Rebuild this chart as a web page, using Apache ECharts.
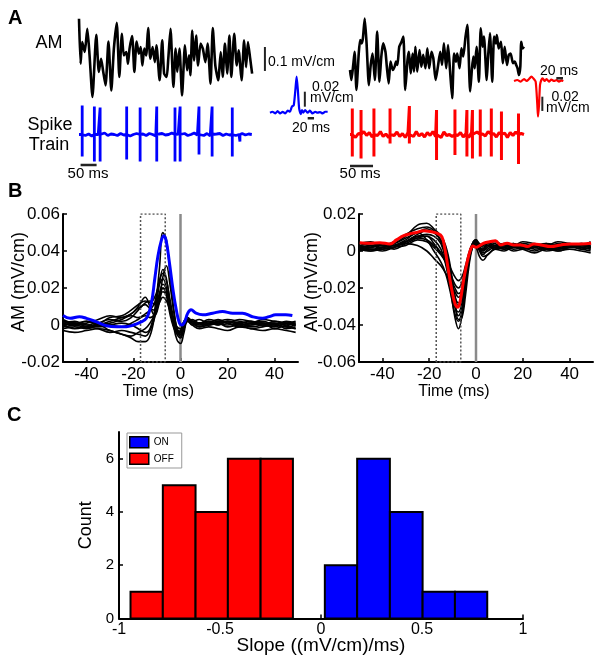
<!DOCTYPE html>
<html><head><meta charset="utf-8">
<script src="https://cdn.jsdelivr.net/npm/echarts/dist/echarts.min.js"></script>
<style>html,body{margin:0;padding:0;background:#fff}#c{width:604px;height:663px}</style>
</head><body><div id="c"></div>
<script>
// ---------- Panel A: AM traces (time ms, mV/cm) ----------
const amLeftT = [0,5,10,18,26,33,42,54,62,69,75,83,92,101,109,118,126,134,140,148,153,158,166,173,180,187,193,198,204,210,216,223,230,237,242,252,260,266,274,279,286,295,302,307,314,322,331,338,344,348,354,360,366,372,380,387,395,402,411,418,426,435,443,449,456,463,470,476,485,493,499,508,516,522,528,535,541];
const amLeftV = [0.164,-0.024,0.067,0.025,0.122,0.011,-0.162,0.097,-0.058,-0.003,-0.051,-0.114,0.069,-0.135,0.039,0.147,-0.079,0.101,0.011,0.025,-0.024,0.039,0.092,-0.058,0.069,0.018,0.046,-0.031,0.039,0.011,0.125,-0.003,0.046,-0.017,0.053,-0.093,0.074,-0.065,-0.079,-0.003,0.122,-0.121,0.039,-0.058,0.039,-0.156,0.053,-0.051,0.011,-0.072,0.115,-0.010,0.094,-0.031,0.060,0.039,-0.017,0.060,-0.107,0.125,-0.031,-0.093,0.025,-0.079,0.060,-0.065,0.094,-0.079,0.101,-0.031,0.032,-0.093,0.074,-0.038,0.067,-0.003,-0.065];
const amRightT = [0,3,7,10,14,19,22,25,28,32,36,41,45,49,54,59,64,68,72,77,80,84,88,93,97,100,103,107,112,116,120,125,128,132,136,139,142,146,151,155,159,164,168,172,177,181,186,191,196,200,204,209,213,217,222,226,230,233,238,242,246,251,255,261,265,268,271,275,280,284,288,291,297,300,304,309,313,317,319,323,328,332,336,341,345,349,354,358,361,364,367,370,372,375,378];
const amRightV = [-0.050,-0.092,-0.029,0.026,-0.133,0.019,0.075,0.061,0.082,0.165,0.061,-0.113,-0.029,0.019,-0.092,0.110,-0.099,0.006,0.061,0.026,-0.036,-0.106,-0.015,-0.050,-0.036,-0.015,-0.029,0.047,0.068,0.089,-0.133,-0.008,0.026,-0.064,0.019,-0.057,0.047,-0.057,0.033,-0.036,0.013,-0.043,0.040,-0.043,0.026,-0.001,-0.092,-0.036,0.026,-0.029,0.061,-0.043,0.054,-0.043,-0.168,0.019,-0.015,0.019,-0.043,0.040,0.006,0.089,0.138,-0.140,-0.043,0.006,-0.043,0.047,-0.099,0.124,0.047,0.089,-0.092,0.006,0.103,-0.099,0.089,0.061,0.096,0.040,0.068,-0.022,0.047,-0.029,0.013,0.019,-0.022,-0.015,-0.029,-0.043,-0.071,-0.036,0.068,0.040,0.047];

// Spike trains (spike times ms, amplitudes in arbitrary units)
const onSpikeT = [10,48,66,149,191,243,300,316,375,416,479,503];
const onSpikeUp = [29,28,27,28,27,28,27,28,28,28,27,0];
const onSpikeDown = [-22,-27,-27,-25,-27,-27,-27,-27,-20,-22,-22,-7];
const onNoiseStep = 10;
const onNoise = [0,1,-1,0.5,-1.5,1,0,-0.5,1.5,-1,0.5,0,-1,1,-0.5,1.5,-1.5,0,1,-0.5,0.5,-1,1,0,-1.5,0.5,1,-0.5,0,1.5,-1,0.5,-0.5,1,-1,0,1.5,-0.5,0.5,-1,1,-1.5,0,0.5,1,-1,0.5,-0.5,1.5,-1,0,1,-0.5,0.5,0];
const offSpikeT = [5,24,52,87,129,188,228,254,266,283,307,329,366];
const offSpikeUp = [26,24.5,26,26,28.5,24.5,25,24.5,24.5,25,26,23,21];
const offSpikeDown = [-22,-24,-22,-9,-9,-25.5,-20.5,-22,-24,-22,-22,-25.5,-29.5];
const offNoiseStep = 6;
const offNoise = [0,2,-3,1,-2,3,-1,2,-2.5,1,-1,3,-2,0.5,-3,2,-1,2.5,-2,1,-3,2,0,-2,3,-1.5,1,-2.5,2,-1,3,-2,1,-3,2.5,-1,0,-2,3,-1,2,-2.5,1,-3,2,-1,2.5,-2,0.5,-1.5,3,-2,1,-2.5,2,-1,1.5,-3,2,-1,2.5,-2,1,0];

// Spike-triggered averages (insets)
const insetOnT = [0,8,17,24,32,40,48,56,63,69,75,80,84,88,92,97,101,105,111,119,126,134,143,150,158,166,174,182];
const insetOnV = [0,0.0013,-0.0009,0.0022,-0.0009,0.0013,-0.0009,0.0027,0.0013,0.008,0.010,0.030,0.048,0.030,0.0058,-0.0018,0.0036,0,0.0036,0,0.0027,-0.0009,0.0013,0,0.0009,-0.0009,0.0013,0.0013];
const insetOffT = [0,10,20,30,38,45,52,58,65,70,72,75,78,82,86,92,98,105,112,120,128,135,142,148];
const insetOffV = [-0.0014,0,-0.0023,0.0014,-0.0014,0.0014,0.0047,0.0023,-0.0023,-0.035,-0.051,-0.035,-0.007,0,0.0023,-0.0014,0.0014,-0.0023,0.0005,-0.0014,0,-0.0023,-0.0005,-0.0014];

// ---------- Panel B ----------
const staOnT = [-50,-47,-43,-40,-36,-31.5,-27,-23,-20,-17.4,-14.5,-12.4,-11,-9.6,-8.2,-7.1,-6.1,-4.7,-3.2,-1.8,-0.4,0.7,1.8,3.1,4.5,6.6,9.5,13.7,17.9,22.2,26.4,30.6,34.9,37.7,40.5,44.8,47.6];
const staOnV = [0.0051,0.0036,0.0045,0.0036,0.0018,-0.0004,-0.0009,-0.0009,0,0.0013,0.0036,0.0118,0.0245,0.0373,0.0455,0.0482,0.0455,0.0336,0.0191,0.0082,0.0009,0,0.0018,0.0064,0.0082,0.0064,0.0055,0.0064,0.0073,0.0064,0.0064,0.0045,0.0036,0.0045,0.0055,0.0055,0.0051];
const staOffT = [-49.7,-45.4,-41.1,-36.8,-34,-31.1,-28.2,-25.4,-22.5,-19.6,-16.8,-14.6,-13.2,-11.8,-10.3,-8.9,-7.7,-6.7,-5.3,-3.9,-2.4,-1.3,-0.1,1.3,3.3,6.2,8.3,10.5,13.3,16.2,19.1,21.9,24.8,27.7,32,36.3,40.6,44.9,49.2];
const staOffV = [0.0045,0.0042,0.0045,0.0038,0.006,0.0082,0.0093,0.01,0.0109,0.0105,0.0096,0.0078,0.0005,-0.0104,-0.0213,-0.0286,-0.0304,-0.0267,-0.0158,-0.0067,0.0005,0.0027,0.002,0.0027,0.0042,0.0051,0.0056,0.0033,0.0042,0.0033,0.0033,0.0024,0.0038,0.0033,0.0024,0.0033,0.0038,0.0038,0.0042];
const cellT = [-50,-45,-40,-35,-30,-25,-21,-18,-15,-13,-11,-9,-7.5,-6,-4.5,-3,-1.5,0,1.5,3,5,8,12,16,20,25,30,35,40,45,49];
const onCells = [
 [0.002,0.001,0.000,-0.001,0.000,0.001,0.000,-0.002,-0.004,-0.002,0.008,0.030,0.050,0.046,0.028,0.010,-0.002,-0.006,-0.002,0.003,0.001,0.000,0.002,0.001,0.000,0.001,0.002,0.000,-0.001,0.001,0.000],
 [0.000,-0.002,-0.001,0.000,-0.003,-0.005,-0.007,-0.009,-0.009,-0.006,0.005,0.022,0.030,0.025,0.012,0.000,-0.008,-0.010,-0.004,0.002,0.001,-0.001,0.001,0.000,0.002,0.001,0.000,0.001,-0.002,0.000,0.001],
 [0.003,0.001,0.002,0.001,0.004,0.005,0.008,0.011,0.013,0.012,0.015,0.022,0.025,0.020,0.010,0.002,-0.004,-0.005,0.000,0.004,0.002,0.001,0.003,0.002,0.001,0.003,0.002,0.001,0.000,0.002,0.001],
 [-0.001,0.000,0.001,0.003,0.005,0.004,0.006,0.010,0.015,0.010,0.005,0.012,0.020,0.018,0.010,0.003,-0.002,-0.004,0.001,0.003,0.002,0.000,0.001,0.003,0.001,0.000,0.001,0.002,0.000,-0.001,0.000],
 [0.000,0.001,-0.001,-0.002,-0.004,-0.003,-0.004,-0.005,-0.006,-0.003,0.004,0.014,0.018,0.016,0.008,0.001,-0.003,-0.004,0.001,0.002,0.000,0.001,0.000,0.002,0.001,-0.001,0.000,0.001,0.001,-0.002,-0.001],
 [0.001,0.000,0.002,0.000,0.001,0.003,0.005,0.004,0.006,0.008,0.012,0.024,0.028,0.024,0.014,0.004,-0.003,-0.004,0.000,0.002,0.003,0.001,0.002,0.000,0.002,0.001,-0.001,0.000,0.001,0.000,-0.002],
 [-0.002,-0.001,-0.002,0.000,0.002,0.004,0.006,0.009,0.011,0.009,0.008,0.012,0.015,0.013,0.008,0.002,-0.001,-0.002,0.002,0.003,0.001,-0.001,0.000,0.001,-0.001,0.000,-0.002,-0.001,0.000,-0.001,-0.002],
 [-0.003,-0.004,-0.003,-0.002,-0.003,-0.005,-0.006,-0.004,-0.002,0.001,0.006,0.017,0.022,0.019,0.009,0.000,-0.005,-0.007,-0.002,0.002,0.000,-0.002,-0.001,-0.002,-0.003,-0.001,-0.002,-0.003,-0.002,-0.003,-0.004],
 [0.001,0.002,0.000,0.001,0.000,-0.001,0.001,0.003,0.005,0.004,0.006,0.014,0.026,0.032,0.022,0.008,-0.002,-0.005,-0.001,0.003,0.002,0.001,0.000,0.001,0.002,0.000,0.001,0.000,0.002,0.001,0.000],
 [0.002,0.000,-0.001,0.001,0.003,0.002,0.004,0.008,0.012,0.013,0.011,0.016,0.020,0.016,0.006,-0.001,-0.004,-0.003,0.002,0.004,0.002,0.003,0.001,0.002,0.003,0.002,0.001,0.003,0.002,0.001,0.002]
];
const offCells = [
 [0.003,0.002,0.004,0.003,0.005,0.008,0.009,0.008,0.004,-0.005,-0.020,-0.036,-0.042,-0.035,-0.020,-0.006,0.002,0.004,0.002,0.003,0.004,0.002,0.003,0.001,0.002,0.003,0.001,0.002,0.003,0.002,0.001],
 [0.002,0.001,0.002,0.003,0.006,0.010,0.006,0.000,-0.006,-0.012,-0.022,-0.034,-0.038,-0.032,-0.018,-0.004,0.004,0.006,0.002,0.000,0.002,0.004,0.001,0.002,0.003,0.001,0.002,0.000,0.002,0.003,0.002],
 [0.001,0.003,0.002,0.004,0.008,0.014,0.015,0.012,0.008,0.002,-0.010,-0.024,-0.030,-0.026,-0.014,-0.003,0.003,0.005,0.001,-0.002,0.001,0.003,0.002,0.004,0.002,0.003,0.001,0.003,0.004,0.002,0.003],
 [0.000,0.001,0.000,0.002,0.004,0.003,0.000,-0.004,-0.008,-0.012,-0.017,-0.022,-0.025,-0.022,-0.013,-0.004,0.002,0.003,0.000,-0.003,-0.002,0.001,0.000,0.002,0.001,-0.001,0.001,0.000,0.001,0.000,-0.001],
 [0.004,0.005,0.003,0.004,0.007,0.010,0.012,0.010,0.006,0.000,-0.014,-0.030,-0.035,-0.030,-0.016,-0.004,0.003,0.005,0.003,0.002,0.004,0.005,0.003,0.002,0.004,0.003,0.002,0.004,0.003,0.004,0.002],
 [0.002,0.000,0.001,0.002,0.003,0.006,0.005,0.002,-0.002,-0.006,-0.012,-0.018,-0.020,-0.017,-0.010,-0.002,0.003,0.002,-0.003,-0.005,-0.002,0.001,0.002,0.000,0.001,0.002,0.000,0.001,0.002,0.001,0.000],
 [0.003,0.004,0.003,0.005,0.009,0.012,0.013,0.011,0.005,-0.003,-0.015,-0.025,-0.028,-0.024,-0.012,-0.002,0.004,0.006,0.004,0.003,0.005,0.003,0.004,0.003,0.005,0.004,0.003,0.005,0.004,0.003,0.005],
 [0.001,0.002,0.003,0.001,0.004,0.007,0.008,0.006,0.001,-0.007,-0.019,-0.030,-0.033,-0.028,-0.015,-0.003,0.003,0.004,0.001,0.001,0.003,0.002,0.004,0.002,0.003,0.002,0.004,0.003,0.002,0.004,0.003],
 [0.003,0.002,0.004,0.003,0.005,0.007,0.006,0.003,-0.001,-0.004,-0.009,-0.014,-0.016,-0.014,-0.008,-0.001,0.004,0.005,0.001,0.000,0.003,0.002,0.003,0.004,0.002,0.003,0.004,0.002,0.003,0.001,0.002],
 [0.002,0.003,0.001,0.002,0.005,0.009,0.011,0.010,0.008,0.003,-0.008,-0.027,-0.037,-0.036,-0.024,-0.008,0.002,0.005,0.002,0.001,0.003,0.001,0.002,0.003,0.001,0.002,0.003,0.001,0.002,0.003,0.002],
 [0.001,0.000,0.002,0.003,0.005,0.008,0.008,0.004,-0.001,-0.006,-0.014,-0.020,-0.023,-0.021,-0.013,-0.003,0.002,0.004,0.001,-0.001,0.000,0.002,0.001,0.003,0.002,0.000,0.002,0.001,0.003,0.002,0.001]
];
const windowStart = -17, windowEnd = -6.5;
const bTicks = [-40,-20,0,20,40];

// ---------- Panel C: histogram ----------
const offEdges = [-0.943,-0.783,-0.621,-0.461,-0.299,-0.139];
const offCounts = [1,5,4,6,6];
const onEdges = [0.019,0.179,0.341,0.503,0.663,0.823];
const onCounts = [2,6,4,1,1];
const countTicks = [0,2,4,6];

// ---------- build ----------
const FONT = 'Liberation Sans, Arial, Helvetica, sans-serif';
const zip = (a,b)=>a.map((v,i)=>[v,b[i]]);
function train(step, noise, times, ups, downs){
  const pts=[];
  noise.forEach((v,i)=>{const t=i*step; if(!times.some(s=>Math.abs(s-t)<1.5)) pts.push([t,v]);});
  times.forEach((t,i)=>{pts.push([t-0.02,0],[t,ups[i]],[t+0.01,downs[i]],[t+0.02,0]);});
  pts.sort((a,b)=>a[0]-b[0]);
  return pts;
}
const hid = (g,min,max)=>({type:'value',gridIndex:g,min,max,show:false,splitLine:{show:false}});
const line = (g,data,color,width,extra)=>Object.assign({type:'line',xAxisIndex:g,yAxisIndex:g,data,showSymbol:false,symbol:'none',silent:true,lineStyle:{color,width},itemStyle:{color}},extra||{});

const grids = [
  {left:79,top:17,width:200,height:82},
  {left:79,top:100,width:200,height:70},
  {left:270,top:65,width:70,height:60},
  {left:350,top:17,width:174,height:82},
  {left:350,top:100,width:174,height:70},
  {left:514,top:60,width:80,height:65},
  {left:63,top:214,width:235,height:148},
  {left:359,top:214,width:234,height:148},
  {left:119,top:432,width:404,height:186.5}
];
const axLine = {onZero:false,lineStyle:{color:'#000',width:2}};
const lab = (sz,m)=>({fontSize:sz,fontFamily:FONT,color:'#000',margin:m});
function bX(g){return {type:'value',gridIndex:g,min:-50,max:50,name:'Time (ms)',nameLocation:'middle',nameGap:22,nameMoveOverlap:false,
  nameTextStyle:{fontSize:16,fontFamily:FONT,color:'#000',padding:[0,44,0,0]},axisLine:axLine,
  axisTick:{inside:true,length:4,customValues:bTicks,lineStyle:{color:'#000',width:1.5}},
  axisLabel:Object.assign({customValues:bTicks},lab(17,4)),splitLine:{show:false}};}
function bY(g,min,max,gap){return {type:'value',gridIndex:g,min,max,interval:0.02,name:'AM (mV/cm)',nameLocation:'middle',nameGap:gap,nameMoveOverlap:false,
  nameTextStyle:{fontSize:18,fontFamily:FONT,color:'#000',padding:[0,0,0,12]},axisLine:axLine,
  axisTick:{inside:true,length:4,lineStyle:{color:'#000',width:1.5}},axisLabel:lab(17,3),splitLine:{show:false}};}

const xAxis = [hid(0,0,625),hid(1,0,625),hid(2,0,221),hid(3,0,378),hid(4,0,378),hid(5,0,240),bX(6),bX(7),
  {type:'value',gridIndex:8,min:-1,max:1,interval:0.5,name:'Slope ((mV/cm)/ms)',nameLocation:'middle',nameGap:18,nameMoveOverlap:false,
   nameTextStyle:{fontSize:19,fontFamily:FONT,color:'#000'},axisLine:axLine,
   axisTick:{inside:true,length:4,lineStyle:{color:'#000',width:1.5}},axisLabel:lab(16,3),splitLine:{show:false}}];
const yAxis = [hid(0,-0.171,0.171),hid(1,-35.5,34.5),hid(2,-0.0164,0.0636),hid(3,-0.171,0.171),hid(4,-35.5,34.5),hid(5,-0.0628,0.0279),
  bY(6,-0.02,0.06,35),bY(7,-0.06,0.02,38),
  {type:'value',gridIndex:8,min:0,max:7,name:'Count',nameLocation:'middle',nameGap:24,nameMoveOverlap:false,
   nameTextStyle:{fontSize:18,fontFamily:FONT,color:'#000'},axisLine:axLine,
   axisTick:{inside:true,length:4,customValues:countTicks,lineStyle:{color:'#000',width:1.5}},
   axisLabel:Object.assign({customValues:countTicks},lab(15,5)),splitLine:{show:false}}];

const BLUE='#0000ff', RED='#ff0000', BAR='#222';
const series = [];
// Panel A
series.push(line(0,zip(amLeftT,amLeftV),'#000',2.6,{smooth:0.2}));
series.push(line(0,[[581,0.046],[581,-0.054]],BAR,2));
series.push(line(1,train(onNoiseStep,onNoise,onSpikeT,onSpikeUp,onSpikeDown),BLUE,2.8));
series.push(line(1,[[5,-30.5],[55,-30.5]],BAR,2.5));
series.push(line(2,zip(insetOnT,insetOnV),BLUE,2.2,{smooth:0.2}));
series.push(line(2,[[110,0.028],[110,0.008]],BAR,2));
series.push(line(2,[[119,-0.0075],[139,-0.0075]],BAR,2.5));
series.push(line(3,zip(amRightT,amRightV),'#000',2.6,{smooth:0.2}));
series.push(line(4,train(offNoiseStep,offNoise,offSpikeT,offSpikeUp,offSpikeDown),RED,3));
series.push(line(4,[[0,-31.5],[50,-31.5]],BAR,2.5));
series.push(line(5,zip(insetOffT,insetOffV),RED,2.2,{smooth:0.2}));
series.push(line(5,[[127,0.0024],[147,0.0024]],BAR,2.5));
series.push(line(5,[[85,-0.0233],[85,-0.0432]],BAR,2));
// Panel B
[[6,-0.02,0.06,onCells,staOnT,staOnV,BLUE],[7,-0.06,0.02,offCells,staOffT,staOffV,RED]].forEach(([g,lo,hi,cells,mt,mv,col])=>{
  series.push(line(g,[[0,lo],[0,hi]],'#8a8a8a',2.5));
  cells.forEach(c=>series.push(line(g,zip(cellT,c),'#000',1.6,{smooth:0.4})));
  series.push(line(g,[[windowStart,lo],[windowStart,hi],[windowEnd,hi],[windowEnd,lo],[windowStart,lo]],'#555',1.5,{lineStyle:{color:'#555',width:1.5,type:[2,2]}}));
  series.push(line(g,zip(mt,mv),col,3,{smooth:0.4}));
});
// Panel C
function hist(name,edges,counts,color){
  return {type:'custom',name,xAxisIndex:8,yAxisIndex:8,silent:true,
    itemStyle:{color,borderColor:'#000',borderWidth:2},
    data:counts.map((c,i)=>[edges[i],edges[i+1],c]),
    encode:{x:[0,1],y:2},
    renderItem:(p,api)=>{const a=api.coord([api.value(0),api.value(2)]);const b=api.coord([api.value(1),0]);
      return {type:'rect',shape:{x:a[0],y:a[1],width:b[0]-a[0],height:b[1]-a[1]},style:{fill:color,stroke:'#000',lineWidth:2}};}};
}
series.push(hist('OFF',offEdges,offCounts,RED));
series.push(hist('ON',onEdges,onCounts,BLUE));

const txt=(text,x,y,size,align,bold)=>({type:'text',x,y,silent:true,style:{text,fill:'#000',font:(bold?'bold ':'')+size+'px '+FONT,align:align||'left',verticalAlign:'middle'}});
const graphic = [
  txt('A',8,18.5,20,'left',true), txt('B',8,191,20,'left',true), txt('C',7,415,20,'left',true),
  txt('AM',49,43.5,18,'center'), txt('Spike',50,125,18,'center'), txt('Train',49,145,18,'center'),
  txt('0.1 mV/cm',268,62,14), txt('0.02',312,87,14), txt('mV/cm',310,98.5,14), txt('20 ms',311,128,14,'center'),
  txt('50 ms',88,174,15,'center'), txt('50 ms',360,174,15,'center'),
  txt('20 ms',559,71,14,'center'), txt('0.02',551.5,97.5,14), txt('mV/cm',546,108.5,14)
];

const chart = echarts.init(document.getElementById('c'),null,{renderer:'canvas'});
chart.setOption({
  animation:false, backgroundColor:'#fff', grid:grids, xAxis, yAxis, series, graphic,
  legend:{data:[{name:'ON',icon:'rect',itemStyle:{color:BLUE,borderColor:'#000',borderWidth:1.5}},
                {name:'OFF',icon:'rect',itemStyle:{color:RED,borderColor:'#000',borderWidth:1.5}}],
    orient:'vertical',left:127,top:433,itemWidth:19,itemHeight:11,itemGap:4,itemTextGap:5,padding:[3,8,3,2],
    borderColor:'#999',borderWidth:1,selectedMode:false,textStyle:{fontSize:10,fontFamily:FONT,color:'#000'}}
});
</script></body></html>
